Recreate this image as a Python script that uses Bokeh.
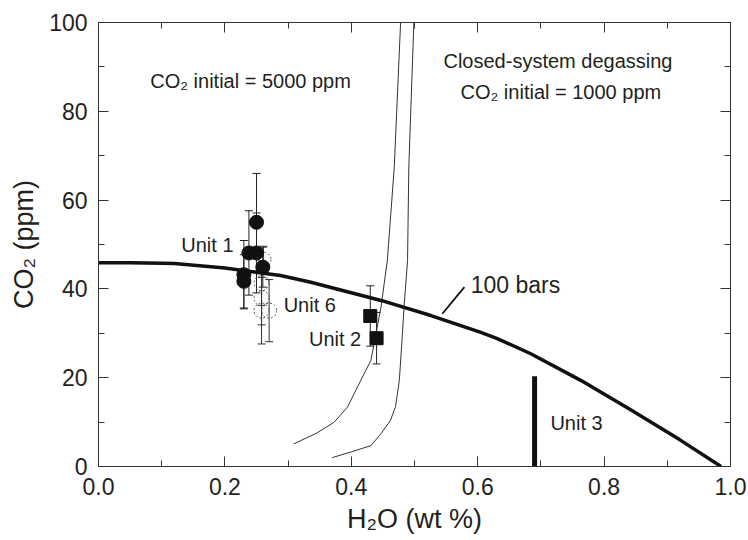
from bokeh.plotting import figure
from bokeh.models import (ColumnDataSource, Whisker, TeeHead, LinearAxis, SingleIntervalTicker,
                          PrintfTickFormatter, Range1d, Label)
from bokeh.embed import file_html
from bokeh.resources import INLINE

# ---------------- data ----------------
unit1_h2o = [0.250, 0.238, 0.250, 0.260, 0.230, 0.230]
unit1_co2 = [55.0, 48.1, 48.1, 44.9, 43.2, 41.7]
unit1_err = [11.0, 9.5, 9.0, 4.5, 7.7, 6.0]

unit6_h2o = [0.261, 0.258, 0.258, 0.258, 0.270]
unit6_co2 = [46.6, 41.3, 37.9, 35.1, 35.1]
unit6_err = [3.0, 5.0, 6.0, 7.5, 7.0]

unit2_h2o = [0.430, 0.440]
unit2_co2 = [33.9, 28.9]
unit2_err = [6.8, 5.8]

unit3_h2o = [0.690]
unit3_co2_low = [0.0]
unit3_co2_high = [20.3]

sat100_h2o = [0.0, 0.05, 0.10, 0.12, 0.20, 0.288, 0.336, 0.447, 0.526, 0.605, 0.631, 0.684, 0.763, 0.842, 0.92, 0.985]
sat100_co2 = [45.9, 45.9, 45.8, 45.7, 44.7, 43.0, 41.5, 37.4, 34.0, 30.2, 28.8, 25.4, 19.4, 12.8, 6.0, 0.0]

closed5000_h2o = [0.309, 0.345, 0.373, 0.394, 0.415, 0.431, 0.447, 0.457, 0.468, 0.478]
closed5000_co2 = [5.1, 7.5, 10.0, 13.4, 19.4, 23.9, 35.9, 46.4, 67.4, 100.0]

closed1000_h2o = [0.370, 0.400, 0.431, 0.447, 0.462, 0.470, 0.476, 0.480, 0.484, 0.489, 0.491, 0.499]
closed1000_co2 = [2.0, 3.3, 4.7, 7.4, 10.4, 13.5, 19.4, 28.0, 37.0, 46.4, 67.4, 100.0]

leader_h2o = [0.544, 0.579]
leader_co2 = [34.4, 40.4]

x_ticks_interval = 0.2
y_ticks_interval = 20

# ---------------- figure ----------------
FONT = "Liberation Sans"
TXT = "#231f20"

p = figure(width=748, height=540, x_range=Range1d(0, 1), y_range=Range1d(0, 100),
           output_backend="svg", toolbar_location=None,
           min_border_left=98, min_border_right=18, min_border_top=22, min_border_bottom=74)
p.grid.visible = False
p.outline_line_color = "#444444"
p.outline_line_width = 1
p.background_fill_color = "white"
p.border_fill_color = "white"


def style_axis(ax, ticker, show_labels):
    ax.ticker = ticker
    ax.major_tick_in = 10
    ax.major_tick_out = 0
    ax.minor_tick_in = 6
    ax.minor_tick_out = 0
    ax.axis_line_color = "#333333"
    ax.major_tick_line_color = "#333333"
    ax.minor_tick_line_color = "#333333"
    if show_labels:
        ax.major_label_text_font = FONT
        ax.major_label_text_font_size = "23px"
        ax.major_label_text_color = TXT
        ax.major_label_standoff = 11
        ax.axis_label_text_font = FONT
        ax.axis_label_text_font_size = "27px"
        ax.axis_label_text_font_style = "normal"
        ax.axis_label_text_color = TXT
    else:
        ax.major_label_text_color = None
        ax.major_label_text_font_size = "1px"
        ax.major_label_standoff = 0


xt = SingleIntervalTicker(interval=x_ticks_interval, num_minor_ticks=2)
yt = SingleIntervalTicker(interval=y_ticks_interval, num_minor_ticks=2)

style_axis(p.xaxis[0], xt, True)
p.xaxis[0].formatter = PrintfTickFormatter(format="%.1f")
p.xaxis[0].axis_label = "H₂O (wt %)"
p.xaxis[0].axis_label_standoff = 6

style_axis(p.yaxis[0], yt, True)
p.yaxis[0].axis_label = "CO₂ (ppm)"
p.yaxis[0].axis_label_standoff = 7

top_ax = LinearAxis()
style_axis(top_ax, SingleIntervalTicker(interval=x_ticks_interval, num_minor_ticks=2), False)
p.add_layout(top_ax, "above")
right_ax = LinearAxis()
style_axis(right_ax, SingleIntervalTicker(interval=y_ticks_interval, num_minor_ticks=2), False)
p.add_layout(right_ax, "right")

# ---------------- curves ----------------
p.line(closed5000_h2o, closed5000_co2, line_color="#333333", line_width=1)
p.line(closed1000_h2o, closed1000_co2, line_color="#333333", line_width=1)
p.line(sat100_h2o, sat100_co2, line_color="#111111", line_width=3.5, line_join="round")
p.line(leader_h2o, leader_co2, line_color="#111111", line_width=1.8)

# Unit 3 bar
p.segment(x0=unit3_h2o, y0=unit3_co2_low, x1=unit3_h2o, y1=unit3_co2_high,
          line_color="#111111", line_width=5)


def add_err(xs, ys, errs, color):
    src = ColumnDataSource(dict(x=xs, upper=[y + e for y, e in zip(ys, errs)],
                                lower=[y - e for y, e in zip(ys, errs)]))
    w = Whisker(source=src, base="x", upper="upper", lower="lower", dimension="height",
                line_color=color, line_width=1,
                upper_head=TeeHead(size=8, line_color=color, line_width=1),
                lower_head=TeeHead(size=8, line_color=color, line_width=1))
    w.level = "underlay"
    p.add_layout(w)


add_err(unit1_h2o, unit1_co2, unit1_err, "#222222")
add_err(unit6_h2o, unit6_co2, unit6_err, "#333333")
add_err(unit2_h2o, unit2_co2, unit2_err, "#222222")

# markers
p.scatter(unit6_h2o, unit6_co2, marker="circle", size=15, fill_alpha=0,
          line_color="#555555", line_width=1, line_dash="2 2")
p.scatter(unit1_h2o, unit1_co2, marker="circle", size=14, fill_color="#111111", line_color="#111111")
p.scatter(unit2_h2o, unit2_co2, marker="square", size=13, fill_color="#111111", line_color="#111111")

# ---------------- text ----------------
def lab(x, y, text, size="20px", align="left"):
    p.add_layout(Label(x=x, y=y, text=text, text_font=FONT, text_font_size=size,
                       text_color=TXT, text_align=align, text_baseline="middle"))


lab(0.131, 49.8, "Unit 1")
lab(0.293, 36.3, "Unit 6")
lab(0.333, 28.8, "Unit 2")
lab(0.715, 9.8, "Unit 3")
lab(0.589, 40.8, "100 bars", size="23px")
lab(0.245, 86.9, "CO₂  initial = 5000 ppm", align="center")
lab(0.727, 91.4, "Closed-system degassing", align="center")
lab(0.736, 84.3, "CO₂  initial = 1000 ppm", align="center")

open("out.html", "w").write(file_html(p, INLINE))
